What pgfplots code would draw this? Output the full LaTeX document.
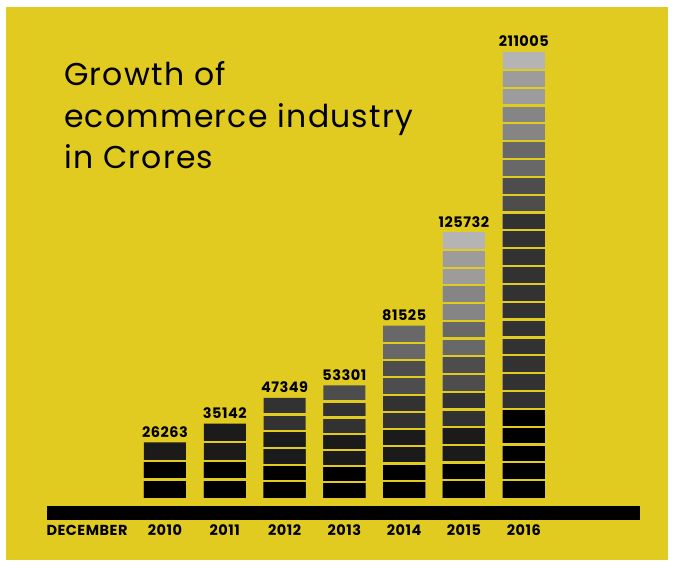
\documentclass[border=0pt]{standalone}
\usepackage{fontspec}
\setmainfont{Poppins}
\newfontfamily\titlefont[LetterSpace=4.0]{Poppins}
\newfontfamily\labelfont[LetterSpace=3.5]{Poppins}
\usepackage{pgfplots}
\pgfplotsset{compat=1.18}
\definecolor{bg}{HTML}{E2CB21}
\definecolor{g0}{HTML}{000000}
\definecolor{g1}{HTML}{1B1B1B}
\definecolor{g2}{HTML}{323232}
\definecolor{g3}{HTML}{4D4D4D}
\definecolor{g4}{HTML}{686868}
\definecolor{g5}{HTML}{858585}
\definecolor{g6}{HTML}{9C9C9C}
\definecolor{g7}{HTML}{B4B4B4}
\newcommand{\lblfont}{\fontsize{14.5}{16}\labelfont\bfseries}
\begin{document}
\begin{tikzpicture}
\begin{axis}[
  set layers,
  scale only axis, width=673pt, height=562pt,
  xmin=2007.241, xmax=2018.495, ymin=-30278, ymax=235604,
  axis line style={draw=none}, tick style={draw=none},
  major tick length=0pt,
  ytick=\empty,
  xtick={2010,2011,2012,2013,2014,2015,2016},
  xticklabels={2010,2011,2012,2013,2014,2015,2016},
  extra x ticks={2008.696}, extra x tick labels={DECEMBER},
  xticklabel style={anchor=base, yshift=26pt, inner sep=0pt, font=\lblfont},
  clip=false,
  every axis plot/.append style={ybar, bar width=42pt, bar shift=0pt, draw=none},
]
\begin{pgfonlayer}{axis background}
\fill[white] (rel axis cs:0,0) rectangle (rel axis cs:1,1);
\fill[bg] (rel axis cs:0.0089,0.00356) rectangle (rel axis cs:0.9926,0.98754);
\end{pgfonlayer}
\draw[line width=13.5pt] (axis cs:2008.027,-7097) -- (axis cs:2017.943,-7097);

% each colour band drawn from 0 up to its cumulative top, lightest first
\addplot[fill=g7] coordinates {(2015,125732) (2016,211005)};
\addplot[fill=g6] coordinates {(2015,117349.87) (2016,202564.8)};
\addplot[fill=g5] coordinates {(2015,100585.6) (2016,185684.4)};
\addplot[fill=g4] coordinates {(2014,81525) (2015,83821.33) (2016,168804)};
\addplot[fill=g3] coordinates {(2013,53301) (2014,65220) (2015,67057.07) (2016,151923.6)};
\addplot[fill=g2] coordinates {(2012,47349) (2013,45686.57) (2014,48915) (2015,50292.8) (2016,135043.2)};
\addplot[fill=g1] coordinates {(2010,26263) (2011,35142) (2012,31566) (2013,30457.71) (2014,32610) (2015,33528.53)};
\addplot[fill=g0] coordinates {(2010,17508.67) (2011,17571) (2012,15783) (2013,15228.86) (2014,16305) (2015,16764.27) (2016,42201)};

% yellow gaps between segments
\addplot[only marks, mark=-, mark size=22pt, mark options={line width=2.2pt, draw=bg}] coordinates {
(2010,8754.33) (2010,17508.67)
(2011,8785.5) (2011,17571) (2011,26356.5)
(2012,7891.5) (2012,15783) (2012,23674.5) (2012,31566) (2012,39457.5)
(2013,7614.43) (2013,15228.86) (2013,22843.29) (2013,30457.71) (2013,38072.14) (2013,45686.57)
(2014,8152.5) (2014,16305) (2014,24457.5) (2014,32610) (2014,40762.5) (2014,48915) (2014,57067.5) (2014,65220) (2014,73372.5)
(2015,8382.13) (2015,16764.27) (2015,25146.4) (2015,33528.53) (2015,41910.67) (2015,50292.8) (2015,58674.93)
(2015,67057.07) (2015,75439.2) (2015,83821.33) (2015,92203.47) (2015,100585.6) (2015,108967.73) (2015,117349.87)
(2016,8440.2) (2016,16880.4) (2016,25320.6) (2016,33760.8) (2016,42201) (2016,50641.2) (2016,59081.4) (2016,67521.6)
(2016,75961.8) (2016,84402) (2016,92842.2) (2016,101282.4) (2016,109722.6) (2016,118162.8) (2016,126603) (2016,135043.2)
(2016,143483.4) (2016,151923.6) (2016,160363.8) (2016,168804) (2016,177244.2) (2016,185684.4) (2016,194124.6) (2016,202564.8)
};

% value labels
\addplot[draw=none, mark=none, point meta=explicit symbolic,
  nodes near coords={\pgfplotspointmeta},
  every node near coord/.append style={anchor=base, yshift=5pt, inner sep=0pt, font=\lblfont}]
  coordinates {(2010,26263)[26263] (2011,35142)[35142] (2012,47349)[47349] (2013,53301)[53301]
  (2014,81525)[81525] (2015,125732)[125732] (2016,211005)[211005]};

\node[anchor=base west, inner sep=0pt, font=\fontsize{31.5}{36}\titlefont] at (rel axis cs:0.0951,0.84698) {Growth of};
\node[anchor=base west, inner sep=0pt, font=\fontsize{31.5}{36}\titlefont] at (rel axis cs:0.0951,0.77313) {ecommerce industry};
\node[anchor=base west, inner sep=0pt, font=\fontsize{31.5}{36}\titlefont] at (rel axis cs:0.0951,0.69929) {in Crores};
\end{axis}
\end{tikzpicture}
\end{document}
